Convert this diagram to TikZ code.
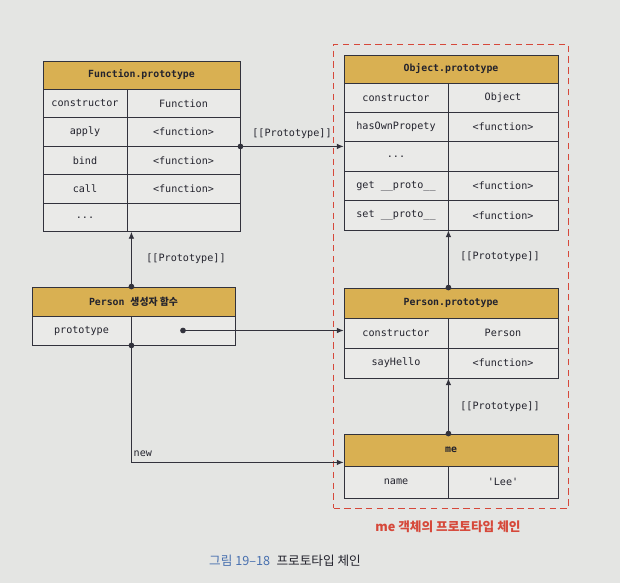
\documentclass[tikz,border=0pt]{standalone}
\usepackage{fontspec}
\setmonofont{DejaVu Sans Mono}
\newfontfamily\krfont{Noto Sans CJK KR}
\usetikzlibrary{arrows.meta,positioning,calc,fit}
\definecolor{bgc}{RGB}{228,229,227}
\definecolor{cellc}{RGB}{234,234,232}
\definecolor{gold}{RGB}{217,176,82}
\definecolor{linec}{RGB}{50,50,60}
\definecolor{textc}{RGB}{35,35,45}
\definecolor{chainred}{RGB}{214,72,58}
\definecolor{capblue}{RGB}{72,112,175}
\newcommand{\moredots}{...}
\tikzset{
  headbox/.style={draw=linec, fill=gold, line width=0.6pt, inner sep=0pt, text=textc, font=\ttfamily\bfseries\fontsize{7}{8}\selectfont},
  cellbox/.style={draw=linec, fill=cellc, line width=0.6pt, inner sep=0pt, text=textc, font=\ttfamily\fontsize{7.2}{8}\selectfont},
  link/.style={{Circle[length=1.4mm]}-{Latex[length=1.7mm,width=1.4mm]}, shorten <=-0.7mm, line width=0.6pt, draw=linec},
  linklabel/.style={inner sep=1pt, text=textc, font=\ttfamily\fontsize{7.2}{8}\selectfont},
  chainbox/.style={draw=chainred, dash pattern=on 1.6mm off 1.1mm, line width=0.8pt, inner sep=2.5mm},
  chainlabel/.style={text=chainred, font=\krfont\bfseries\fontsize{9}{10}\selectfont}
}

\begin{document}
\begin{tikzpicture}[x=0.25mm,y=-0.25mm]
  \fill[bgc] (0,0) rectangle (620,583);
  \useasboundingbox (0,0) rectangle (620,583);

  % Function.prototype
  \node[headbox, minimum width=49.25mm, minimum height=7mm] (fhead) at (141.5,75) {Function.prototype};
  \foreach \n/\y/\k/\v in {1/103.25/constructor/Function, 2/131.75/apply/{<function>}, 3/160.25/bind/{<function>}, 4/188.75/call/{<function>}, 5/217.25/\moredots/{}}{
    \node[cellbox, minimum width=21mm, minimum height=7.125mm] (fk\n) at (85,\y) {\k};
    \node[cellbox, minimum width=28.25mm, minimum height=7.125mm] (fv\n) at (183.5,\y) {\v};
  }

  % Object.prototype
  \node[headbox, minimum width=53.5mm, minimum height=7mm] (ohead) at (451,69) {Object.prototype};
  \foreach \n/\y/\k/\v in {1/97.7/constructor/Object, 2/127.1/hasOwnPropety/{<function>}, 3/156.5/\moredots/{}, 4/185.9/{get \_\_proto\_\_}/{<function>}, 5/215.3/{set \_\_proto\_\_}/{<function>}}{
    \node[cellbox, minimum width=26mm, minimum height=7.35mm] (ok\n) at (396,\y) {\k};
    \node[cellbox, minimum width=27.5mm, minimum height=7.35mm] (ov\n) at (503,\y) {\v};
  }

  % Person 생성자 함수
  \node[headbox, minimum width=50.75mm, minimum height=7.25mm] (pchead) at (133.5,301.5) {Person {\krfont\bfseries 생성자 함수}};
  \node[cellbox, minimum width=24.75mm, minimum height=7.25mm] (pck) at (81.5,330.5) {prototype};
  \node[cellbox, minimum width=26mm, minimum height=7.25mm] (pcv) at (183,330.5) {};

  % Person.prototype
  \node[headbox, minimum width=53.5mm, minimum height=7.5mm] (pphead) at (451,303) {Person.prototype};
  \node[cellbox, minimum width=26mm, minimum height=7.5mm] (ppk1) at (396,333) {constructor};
  \node[cellbox, minimum width=27.5mm, minimum height=7.5mm] (ppv1) at (503,333) {Person};
  \node[cellbox, minimum width=26mm, minimum height=7.5mm] (ppk2) at (396,363) {sayHello};
  \node[cellbox, minimum width=27.5mm, minimum height=7.5mm] (ppv2) at (503,363) {<function>};

  % me
  \node[headbox, minimum width=53.5mm, minimum height=8mm] (mehead) at (451,450) {me};
  \node[cellbox, minimum width=26mm, minimum height=8mm] (mek) at (396,482) {name};
  \node[cellbox, minimum width=27.5mm, minimum height=8mm] (mev) at (503,482) {'Lee'};

  % prototype chain of me
  \node[chainbox, fit=(ohead)(mek)(mev)] (chain) {};
  \node[chainlabel] (chainlab) at (448,527) {me 객체의 프로토타입 체인};

  % links
  \coordinate (pctop) at (pck.north east |- pchead.north);
  \coordinate (pptop) at (ppk1.north east |- pphead.north);
  \coordinate (metop) at (mek.north east |- mehead.north);
  \coordinate (newend) at ($(mehead.south west)+(0,-4)$);
  \draw[link] (fv2.south east) -- (fv2.south east -| ok3.west);
  \draw[link] (pctop) -- (pctop |- fk5.south);
  \draw[link] (pcv.center) -- (pcv.center -| ppk1.west);
  \draw[link] (pck.south east) |- (newend);
  \draw[link] (pptop) -- (pptop |- ok5.south);
  \draw[link] (metop) -- (metop |- ppk2.south);
  \node[linklabel] (lab1) at (292,134) {[[Prototype]]};
  \node[linklabel] (lab2) at (186,259) {[[Prototype]]};
  \node[linklabel] (lab3) at (500,257) {[[Prototype]]};
  \node[linklabel] (lab4) at (500,407) {[[Prototype]]};
  \node[linklabel, anchor=south west] (newlab) at (132,458) {new};

  % caption
  \node[font=\krfont\fontsize{9}{10}\selectfont] (cap) at (285,561) {\textcolor{capblue}{그림 19–18}\enspace\textcolor{textc}{프로토타입 체인}};
\end{tikzpicture}
\end{document}
